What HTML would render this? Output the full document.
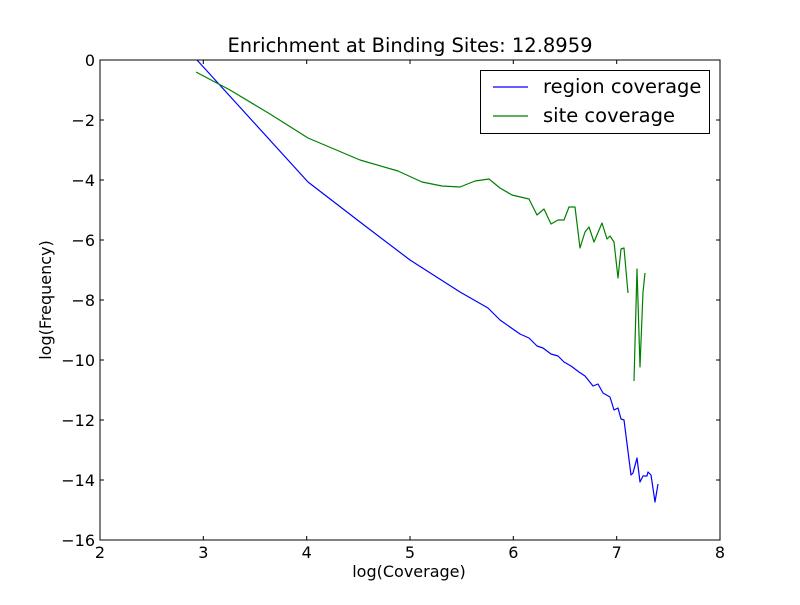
<!DOCTYPE html>
<html><head><style>
body{margin:0;background:#fff;}
svg text{font-family:"DejaVu Sans","Liberation Sans",sans-serif;}
</style></head><body>
<svg width="800" height="600" xmlns="http://www.w3.org/2000/svg">
<rect width="800" height="600" fill="#fff"/>
<g fill="none" stroke-width="1.2" stroke-linejoin="round">
<polyline stroke="#0000ff" points="197,60 308,182 360,222 410,260 460,292 488,308 500,320 520,334 529,338 537,346 543,348 551,354 558,356 564,362 571,366 579,372 585,376 593,386 598,384 603,393 610,397 614,410 618,408 621,419 624,420 631,475 633,473 637,458 640,482 643,476 647,476 648,472 651,475 655,502 658,484"/>
<polyline stroke="#008000" points="196,72 230,90 270,114 308,138 360,160 398,171 422,182 442,186 460,187 475,181 489,179 500,188 512,195 529,199 537,215 544,209 551,224 558,220 564,220 569,207 575,207 580,248 585,232 589,227 594,242 602,223 607,239 610,236 614,242 618,278 621,249 624,248 628,293"/>
<polyline stroke="#008000" points="634,381 637,269 640,367 643,292 645,273"/>
</g>
<rect x="100" y="60" width="620" height="480" fill="none" stroke="#000" stroke-width="1"/>
<g stroke="#000" stroke-width="1">
<path d="M203.3,540v-4M306.7,540v-4M410,540v-4M513.3,540v-4M616.7,540v-4M203.3,60v4M306.7,60v4M410,60v4M513.3,60v4M616.7,60v4"/>
<path d="M100,120h4M100,180h4M100,240h4M100,300h4M100,360h4M100,420h4M100,480h4M720,120h-4M720,180h-4M720,240h-4M720,300h-4M720,360h-4M720,420h-4M720,480h-4"/>
</g>
<g font-size="16" text-anchor="middle" fill="#000">
<text x="100" y="558">2</text><text x="203.3" y="558">3</text><text x="306.7" y="558">4</text><text x="410" y="558">5</text><text x="513.3" y="558">6</text><text x="616.7" y="558">7</text><text x="720" y="558">8</text>
</g>
<g font-size="16" text-anchor="end" fill="#000">
<text x="95" y="66">0</text><text x="95" y="126">−2</text><text x="95" y="186">−4</text><text x="95" y="246">−6</text><text x="95" y="306">−8</text><text x="95" y="366">−10</text><text x="95" y="426">−12</text><text x="95" y="486">−14</text><text x="95" y="546">−16</text>
</g>
<text x="409" y="577" font-size="16" text-anchor="middle">log(Coverage)</text>
<text x="51" y="300" font-size="16" text-anchor="middle" transform="rotate(-90 51 300)">log(Frequency)</text>
<text x="410" y="52" font-size="19.5" text-anchor="middle">Enrichment at Binding Sites: 12.8959</text>
<rect x="480.5" y="70.5" width="229" height="63" fill="#fff" stroke="#000"/>
<line x1="493" y1="87" x2="528" y2="87" stroke="#0000ff" stroke-width="1.2"/>
<line x1="493" y1="116" x2="528" y2="116" stroke="#008000" stroke-width="1.2"/>
<text x="543" y="93" font-size="19.5">region coverage</text>
<text x="543" y="122" font-size="19.5">site coverage</text>
</svg>
</body></html>
